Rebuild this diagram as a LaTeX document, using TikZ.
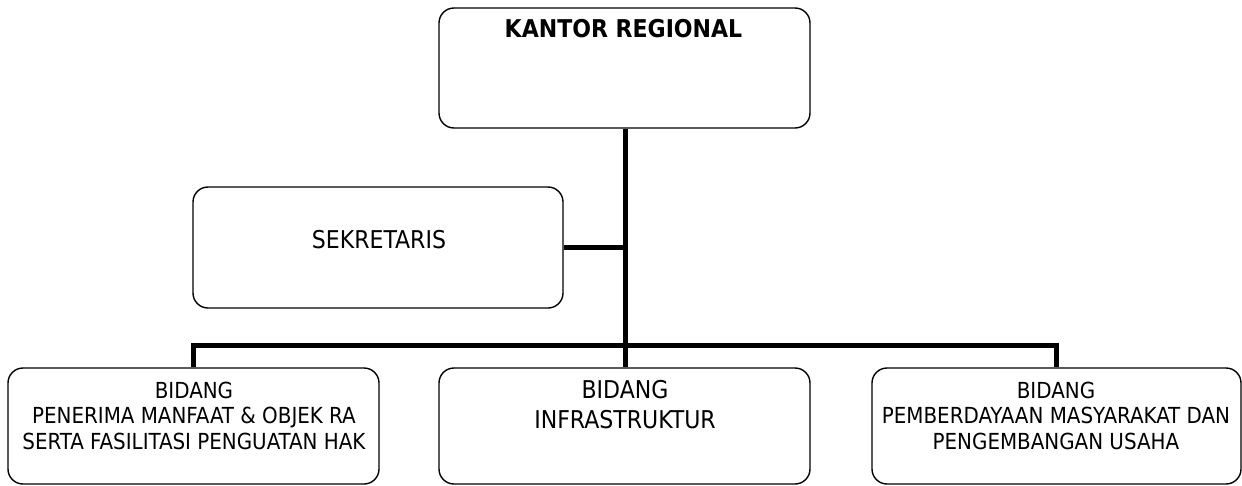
\documentclass[tikz,border=0pt]{standalone}
\usepackage{fontspec}
\setmainfont{DejaVu Sans Condensed}
\begin{document}
\begin{tikzpicture}[x=1pt,y=-1pt,
  box/.style={draw=black, line width=1.4pt, rounded corners=15pt, inner sep=0pt},
  conn/.style={line width=5pt},
  txt/.style={inner sep=0pt, align=center},
  fs/.style={font=\fontsize{22.1}{25.5}\selectfont},
  fm/.style={font=\fontsize{24.5}{30}\selectfont}]
\useasboundingbox (0,0) rectangle (1242,485);
\node[box, minimum width=371pt, minimum height=120pt] (kr) at (624.5,68) {};
\node[box, minimum width=370pt, minimum height=121pt] (sek) at (378,247.5) {};
\node[box, minimum width=371pt, minimum height=116pt] (b1) at (193.5,426) {};
\node[box, minimum width=371pt, minimum height=116pt] (b2) at (624.5,426) {};
\node[box, minimum width=369pt, minimum height=116pt] (b3) at (1056.5,426) {};
\node[txt, anchor=base, font=\fontsize{24.5}{28}\selectfont\bfseries] (tkr) at (623.5,37) {KANTOR REGIONAL};
\node[txt, anchor=base, font=\fontsize{24.5}{28}\selectfont] (tsek) at (379,248) {SEKRETARIS};
\node[txt, anchor=north, fs] (tb1) at (194,381.5) {BIDANG\\PENERIMA MANFAAT \& OBJEK RA\\SERTA FASILITASI PENGUATAN HAK};
\node[txt, anchor=north, fm] (tb2) at (625,380.5) {BIDANG\\INFRASTRUKTUR};
\node[txt, anchor=north, fs] (tb3) at (1056,381.5) {BIDANG\\PEMBERDAYAAN MASYARAKAT DAN\\PENGEMBANGAN USAHA};
\coordinate (bar) at (625,345);
\draw[conn] (kr.south -| bar) -- (b2.north -| bar);
\draw[conn] (sek.east) -- (sek.east -| bar);
\draw[conn] (b1.north) -- (b1.north |- bar) -- (b3.north |- bar) -- (b3.north);
\end{tikzpicture}
\end{document}
